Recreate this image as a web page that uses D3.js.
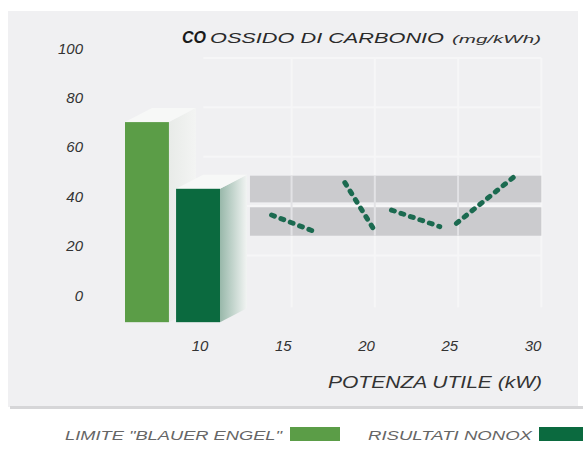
<!DOCTYPE html>
<html><head><meta charset="utf-8">
<script src="https://cdn.jsdelivr.net/npm/d3@7"></script>
<style>
html,body{margin:0;padding:0;background:#fff;}
svg{display:block;}
svg text{font-family:"Liberation Sans",Arial,sans-serif;font-style:italic;}
</style></head>
<body><svg id="c" width="583" height="453"></svg>
<script>
// ---- data ----
const barCategories = ["LIMITE \"BLAUER ENGEL\"", "RISULTATI NONOX"];
const barValues = [70, 43];
const barFloor = -11;
const yTicks = [0, 20, 40, 60, 80, 100];
const xTicks = [10, 15, 20, 25, 30];
const rangeBands = [[24, 35.5], [37.5, 48.3]];
const bandKw = [13, 30.5];
const segment1 = [[14.3, 32.4], [16.9, 25.6]];
const segment2 = [[18.7, 45.5], [20.4, 27.0]];
const segment3 = [[21.5, 34.4], [24.4, 27.7]];
const segment4 = [[25.4, 29.0], [29.0, 48.6]];
const wallGridY = [16, 36, 56, 76, 96];
const wallGridX = [15.5, 20.5, 25.5, 30.5];
const colors = ["#5b9d47", "#0b6a3f"];

const svg = d3.select("#c");
const defs = svg.append("defs");

const y = d3.scaleLinear().domain([0, 100]).range([295, 48]);
const x = d3.scaleLinear().domain([10, 30]).range([200, 533]);
const xb = d3.scaleBand().domain(barCategories).range([125, 220]).paddingInner(0.14);

// panel
svg.append("rect").attr("x", 8).attr("y", 11).attr("width", 570).attr("height", 396).attr("fill", "#f0f0f2");
svg.append("rect").attr("x", 10).attr("y", 406).attr("width", 573).attr("height", 3).attr("fill", "#d6d6d8");

// back wall grid (faint)
const g = svg.append("g");
g.selectAll("line.h").data(wallGridY).join("line")
  .attr("x1", x(10.2)).attr("x2", x(30.5)).attr("y1", d => y(d)).attr("y2", d => y(d))
  .attr("stroke", "#f6f6f7").attr("stroke-width", 2);
g.selectAll("line.v").data(wallGridX).join("line")
  .attr("x1", d => x(d)).attr("x2", d => x(d)).attr("y1", y(96)).attr("y2", y(-5))
  .attr("stroke", "#f6f6f7").attr("stroke-width", 2);

// gray range bands
g.selectAll("rect.band").data(rangeBands).join("rect")
  .attr("x", x(bandKw[0])).attr("width", x(bandKw[1]) - x(bandKw[0]))
  .attr("y", d => y(d[1])).attr("height", d => y(d[0]) - y(d[1]))
  .attr("fill", "#cbcbce");
g.selectAll("line.vb").data(wallGridX.slice(0, 3)).join("line")
  .attr("x1", d => x(d)).attr("x2", d => x(d)).attr("y1", y(rangeBands[1][1])).attr("y2", y(rangeBands[0][0]))
  .attr("stroke", "#e2e2e5").attr("stroke-width", 2);

// 3D bars
const depthX = 27, depthY = 14;
const grad = defs.append("linearGradient").attr("id", "side").attr("x1", "0").attr("x2", "1");
grad.append("stop").attr("offset", "0").attr("stop-color", "#98b8aa");
grad.append("stop").attr("offset", "1").attr("stop-color", "#f2f4f3");
const gradL = defs.append("linearGradient").attr("id", "sideL").attr("x1", "0").attr("x2", "1");
gradL.append("stop").attr("offset", "0").attr("stop-color", "#e8ebe8");
gradL.append("stop").attr("offset", "1").attr("stop-color", "#f3f4f3");

const bars = svg.append("g");
barCategories.forEach((c, i) => {
  const x0 = xb(c), x1 = xb(c) + xb.bandwidth();
  const yt = y(barValues[i]), yb = y(barFloor);
  bars.append("path")
    .attr("d", `M${x1},${yt} L${x1 + depthX},${yt - depthY} L${x1 + depthX},${yb - depthY} L${x1},${yb} Z`)
    .attr("fill", i === 1 ? "url(#side)" : "url(#sideL)");
  bars.append("path")
    .attr("d", `M${x0},${yt} L${x0 + depthX},${yt - depthY} L${x1 + depthX},${yt - depthY} L${x1},${yt} Z`)
    .attr("fill", "#f7f8f7");
});
bars.selectAll("rect").data(barValues).join("rect")
  .attr("x", (d, i) => xb(barCategories[i])).attr("width", xb.bandwidth())
  .attr("y", d => y(d)).attr("height", d => y(barFloor) - y(d))
  .attr("fill", (d, i) => colors[i]);

// dotted series
const line = d3.line().x(d => x(d[0])).y(d => y(d[1]));
svg.append("g").selectAll("path").data([segment1, segment2, segment3, segment4]).join("path")
  .attr("d", line).attr("fill", "none").attr("stroke", "#1b6a50")
  .attr("stroke-width", 5).attr("stroke-linecap", "round").attr("stroke-dasharray", "3 7");

// y tick labels
svg.append("g").selectAll("text").data(yTicks).join("text")
  .attr("x", 83).attr("y", d => y(d) + 5.5).attr("text-anchor", "end").attr("font-style", "italic")
  .attr("font-size", 15).attr("fill", "#333").text(d => d);

// x tick labels
svg.append("g").selectAll("text").data(xTicks).join("text")
  .attr("x", d => x(d)).attr("y", 351).attr("text-anchor", "middle").attr("font-style", "italic")
  .attr("font-size", 15).attr("fill", "#333").text(d => d);

// axis title
svg.append("text").attr("x", 542).attr("y", 388).attr("text-anchor", "end").attr("font-style", "italic")
  .attr("font-size", 16).attr("fill", "#333").attr("textLength", 214).attr("lengthAdjust", "spacingAndGlyphs")
  .text("POTENZA UTILE (kW)");

// title
svg.append("text").attr("x", 182).attr("y", 43).attr("font-size", 16).attr("font-weight", "bold").attr("font-style", "italic")
  .attr("fill", "#1a1a1a").attr("textLength", 24).attr("lengthAdjust", "spacingAndGlyphs").text("CO");
svg.append("text").attr("x", 210).attr("y", 43).attr("font-size", 15).attr("fill", "#2a2a2a").attr("font-style", "italic")
  .attr("textLength", 234).attr("lengthAdjust", "spacingAndGlyphs").text("OSSIDO DI CARBONIO");
svg.append("text").attr("x", 452).attr("y", 43).attr("font-size", 11).attr("fill", "#333").attr("font-style", "italic")
  .attr("textLength", 89).attr("lengthAdjust", "spacingAndGlyphs").text("(mg/kWh)");

// legend
svg.append("text").attr("x", 65).attr("y", 440).attr("font-size", 13).attr("fill", "#666").attr("font-style", "italic")
  .attr("textLength", 217).attr("lengthAdjust", "spacingAndGlyphs").text(barCategories[0]);
svg.append("rect").attr("x", 290).attr("y", 427).attr("width", 50).attr("height", 14).attr("fill", colors[0]);
svg.append("text").attr("x", 368).attr("y", 440).attr("font-size", 13).attr("fill", "#666").attr("font-style", "italic")
  .attr("textLength", 164).attr("lengthAdjust", "spacingAndGlyphs").text(barCategories[1]);
svg.append("rect").attr("x", 539).attr("y", 427).attr("width", 44).attr("height", 14).attr("fill", colors[1]);
</script></body></html>
